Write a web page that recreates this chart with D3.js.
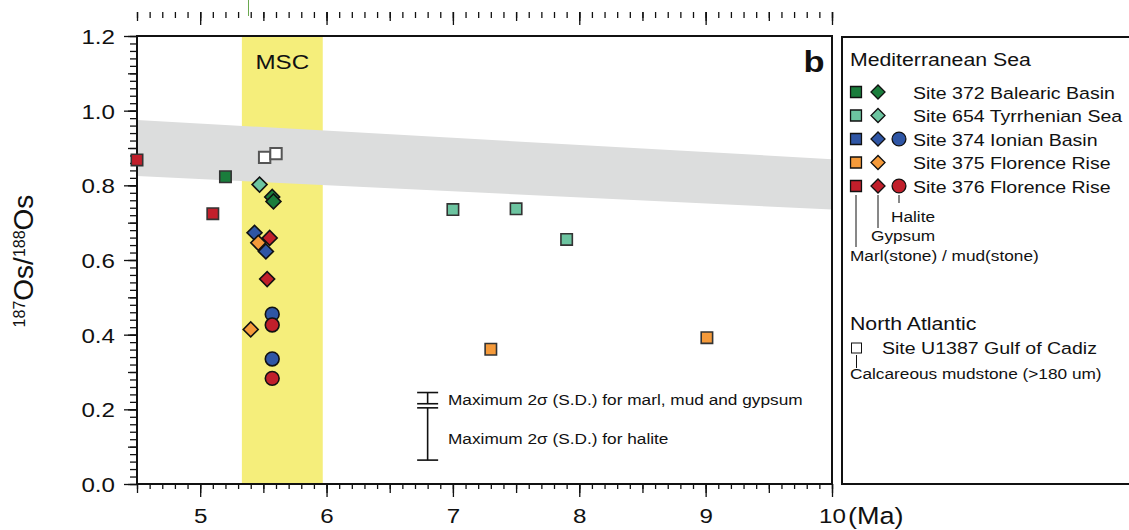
<!DOCTYPE html>
<html>
<head>
<meta charset="utf-8">
<script src="https://cdn.jsdelivr.net/npm/d3@7"></script>
<style>
  body { margin: 0; background: #fff; }
  svg { display: block; font-family: Arial, "Liberation Sans", sans-serif; }
</style>
</head>
<body>
<svg id="chart" width="1129" height="530"></svg>
<script>
// --- data ---
const siteNames = ["372", "654", "374", "375", "376", "U1387"];
const siteColors = ["#1a7d3c", "#6cc4a0", "#2f56a5", "#f59a3a", "#c11f2b", "#ffffff"];
const legendLabels = ["Site 372 Balearic Basin", "Site 654 Tyrrhenian Sea", "Site 374 Ionian Basin",
                      "Site 375 Florence Rise", "Site 376 Florence Rise"];
const legendShapes = [["marl", "gypsum"], ["marl", "gypsum"], ["marl", "gypsum", "halite"],
                      ["marl", "gypsum"], ["marl", "gypsum", "halite"]];

// points in drawing order (age Ma, 187Os/188Os, site, lithology)
const pointAge  = [4.5, 5.1, 5.2, 5.51, 5.6, 5.47, 5.57, 5.58, 5.43, 5.55, 5.46, 5.52, 5.53, 5.57, 5.57, 5.40, 5.57, 5.57, 7.0, 7.5, 7.9, 7.3, 9.01];
const pointOs   = [0.868, 0.724, 0.823, 0.875, 0.885, 0.802, 0.769, 0.757, 0.673, 0.659, 0.646, 0.623, 0.549, 0.455, 0.426, 0.414, 0.335, 0.283, 0.735, 0.737, 0.655, 0.361, 0.392];
const pointSite = ["376", "376", "372", "U1387", "U1387", "654", "372", "372", "374", "376", "375", "374", "376", "374", "376", "375", "374", "376", "654", "654", "654", "375", "375"];
const pointType = ["marl", "marl", "marl", "marl", "marl", "gypsum", "gypsum", "gypsum", "gypsum", "gypsum", "gypsum", "gypsum", "gypsum", "halite", "halite", "gypsum", "halite", "halite", "marl", "marl", "marl", "marl", "marl"];

// grey seawater band and MSC interval
const bandAge = [4.5, 10];
const bandTop = [0.975, 0.87];
const bandBottom = [0.825, 0.735];
const mscStart = 5.33, mscEnd = 5.97;

// error-bar legend (2 sigma)
const errAge = 6.8;
const errMarl = [0.245, 0.215];
const errHalite = [0.204, 0.064];

const xTicks = [5, 6, 7, 8, 9, 10];
const yTicks = [0, 0.2, 0.4, 0.6, 0.8, 1.0, 1.2];

// --- layout ---
const SX = 1.15;   // source figure is slightly stretched horizontally
const plotL = 137, plotR = 832, plotT = 36, plotB = 484;

const svg = d3.select("#chart");

const x = d3.scaleLinear().domain([4.5, 10]).range([plotL, plotR]);
const y = d3.scaleLinear().domain([0, 1.2]).range([plotB, plotT]);
const color = d3.scaleOrdinal().domain(siteNames).range(siteColors);

function label(g, px, py, s, size, anchor, weight) {
  return g.append("text")
    .attr("transform", "translate(" + px + "," + py + ") scale(" + SX + ",1)")
    .attr("text-anchor", anchor || "start")
    .style("font-size", size + "px")
    .style("font-weight", weight || "normal")
    .style("fill", "#111")
    .text(s);
}

// background bands
svg.append("rect")
  .attr("x", x(mscStart)).attr("y", plotT)
  .attr("width", x(mscEnd) - x(mscStart)).attr("height", plotB - plotT)
  .attr("fill", "#f5ee7b");

const area = d3.area()
  .x(function(d, i) { return x(d); })
  .y0(function(d, i) { return y(bandBottom[i]); })
  .y1(function(d, i) { return y(bandTop[i]); });
svg.append("path").datum(bandAge).attr("d", area).attr("fill", "#dcdddd");

label(svg, x((mscStart + mscEnd) / 2), 69, "MSC", 21, "middle");
label(svg, 814, 72, "b", 30, "middle", "bold");

// axes
function ticksAt(step, a, b) {
  return d3.range(Math.round(a / step), Math.round(b / step) + 1).map(function(k) { return +(k * step).toFixed(3); });
}
function styleAxis(g) {
  g.selectAll("line").attr("stroke", "#111").attr("stroke-width", 1.3);
  g.select(".domain").remove();
}

// bottom
svg.append("g").attr("transform", "translate(0," + plotB + ")")
  .call(d3.axisBottom(x).tickValues(ticksAt(0.1, 4.5, 10)).tickSize(5).tickFormat(""))
  .call(styleAxis);
svg.append("g").attr("transform", "translate(0," + plotB + ")")
  .call(d3.axisBottom(x).tickValues(ticksAt(0.5, 4.5, 10)).tickSize(9).tickFormat(""))
  .call(styleAxis);
const xAxisG = svg.append("g").attr("transform", "translate(0," + plotB + ")")
  .call(d3.axisBottom(x).tickValues(xTicks).tickSize(13).tickFormat(d3.format("d")))
  .call(styleAxis);
xAxisG.selectAll("text")
  .attr("y", 0).attr("dy", 0)
  .attr("transform", "translate(0,39) scale(" + SX + ",1)")
  .style("font-size", "21px").style("fill", "#111");

// top tick row (no labels)
const topRow = 12;
[[0.1, 6], [0.5, 9], [1, 13]].forEach(function(t) {
  svg.append("g").attr("transform", "translate(0," + topRow + ")")
    .call(d3.axisBottom(x).tickValues(ticksAt(t[0], 4.5, 10)).tickSize(t[1]).tickFormat(""))
    .call(styleAxis);
});
svg.append("line").attr("x1", 248.5).attr("x2", 248.5).attr("y1", 0).attr("y2", 16)
  .attr("stroke", "#6aa84f").attr("stroke-width", 1);

// left
svg.append("g").attr("transform", "translate(" + plotL + ",0)")
  .call(d3.axisLeft(y).tickValues(ticksAt(0.02, 0, 1.2)).tickSize(7).tickFormat(""))
  .call(styleAxis);
svg.append("g").attr("transform", "translate(" + plotL + ",0)")
  .call(d3.axisLeft(y).tickValues(ticksAt(0.1, 0, 1.2)).tickSize(9).tickFormat(""))
  .call(styleAxis);
const yAxisG = svg.append("g").attr("transform", "translate(" + plotL + ",0)")
  .call(d3.axisLeft(y).tickValues(yTicks).tickSize(13).tickFormat(d3.format(".1f")))
  .call(styleAxis);
yAxisG.selectAll("text")
  .attr("x", 0).attr("dy", "0.36em")
  .attr("transform", "translate(-22,0) scale(" + SX + ",1)")
  .style("font-size", "21px").style("fill", "#111");

// frame
svg.append("rect")
  .attr("x", plotL).attr("y", plotT).attr("width", plotR - plotL).attr("height", plotB - plotT)
  .attr("fill", "none").attr("stroke", "#111").attr("stroke-width", 2);

// axis titles
label(svg, 848, 524, "(Ma)", 23.5, "start");
const yt = svg.append("text")
  .attr("transform", "translate(33,261) rotate(-90)")
  .attr("text-anchor", "middle")
  .style("fill", "#111");
yt.append("tspan").text("187").style("font-size", "16px").attr("dy", -8);
yt.append("tspan").text("Os/").style("font-size", "28px").attr("dy", 8);
yt.append("tspan").text("188").style("font-size", "16px").attr("dy", -8);
yt.append("tspan").text("Os").style("font-size", "28px").attr("dy", 8);

// markers: square (marl), square turned 45deg (gypsum), circle (halite)
const squareSym = d3.symbol().type(d3.symbolSquare);
const circleSym = d3.symbol().type(d3.symbolCircle);
function markerPath(type, big) {
  if (type === "marl") return squareSym.size(big ? 130 : 120)();
  if (type === "gypsum") return squareSym.size(big ? 112 : 98)();
  return circleSym.size(150)();
}
function markerRot(type) { return type === "gypsum" ? " rotate(45)" : ""; }

svg.append("g").selectAll("path")
  .data(d3.range(pointAge.length))
  .join("path")
  .attr("transform", function(i) { return "translate(" + x(pointAge[i]) + "," + y(pointOs[i]) + ")" + markerRot(pointType[i]); })
  .attr("d", function(i) { return markerPath(pointType[i], true); })
  .attr("fill", function(i) { return color(pointSite[i]); })
  .attr("stroke", function(i) { return pointSite[i] === "U1387" ? "#555" : (pointType[i] === "marl" ? "#333" : "#111"); })
  .attr("stroke-width", function(i) { return pointSite[i] === "U1387" ? 2 : 1.6; });

// 2 sigma bars
function errBar(v) {
  const g = svg.append("g").attr("stroke", "#111").attr("stroke-width", 1.6);
  g.append("line").attr("x1", x(errAge)).attr("x2", x(errAge)).attr("y1", y(v[0])).attr("y2", y(v[1]));
  [0, 1].forEach(function(k) {
    g.append("line").attr("x1", x(errAge) - 10.5).attr("x2", x(errAge) + 10.5)
      .attr("y1", y(v[k])).attr("y2", y(v[k]));
  });
}
errBar(errMarl);
errBar(errHalite);
label(svg, 448, 405, "Maximum 2\u03c3 (S.D.) for marl, mud and gypsum", 15, "start");
label(svg, 448, 444, "Maximum 2\u03c3 (S.D.) for halite", 15, "start");

// legend box
const lg = svg.append("g");
lg.append("rect").attr("x", 842).attr("y", 37).attr("width", 320).attr("height", 447)
  .attr("fill", "none").attr("stroke", "#111").attr("stroke-width", 2);

label(lg, 850, 66, "Mediterranean Sea", 18.5, "start");
const shapeX = { marl: 856, gypsum: 878, halite: 899 };
const rowY0 = 92, rowStep = 23.5;
legendLabels.forEach(function(txt, r) {
  const cy = rowY0 + r * rowStep;
  legendShapes[r].forEach(function(s) {
    lg.append("path")
      .attr("transform", "translate(" + shapeX[s] + "," + cy + ")" + markerRot(s))
      .attr("d", markerPath(s, false))
      .attr("fill", siteColors[r])
      .attr("stroke", "#111").attr("stroke-width", 1.3);
  });
  label(lg, 913, cy + 6.5, txt, 17, "start");
});

const leaderTop = rowY0 + 4 * rowStep + 9;
lg.append("line").attr("x1", 856).attr("x2", 856).attr("y1", leaderTop).attr("y2", 247).attr("stroke", "#111");
lg.append("line").attr("x1", 878).attr("x2", 878).attr("y1", leaderTop).attr("y2", 228).attr("stroke", "#111");
lg.append("line").attr("x1", 899).attr("x2", 899).attr("y1", leaderTop).attr("y2", 203).attr("stroke", "#111");
label(lg, 891, 222, "Halite", 15, "start");
label(lg, 871, 241, "Gypsum", 15, "start");
label(lg, 850, 261, "Marl(stone) / mud(stone)", 15, "start");

label(lg, 850, 330, "North Atlantic", 18.5, "start");
lg.append("rect").attr("x", 851.5).attr("y", 343).attr("width", 10).attr("height", 10)
  .attr("fill", "#fff").attr("stroke", "#111").attr("stroke-width", 1);
label(lg, 882, 354, "Site U1387 Gulf of Cadiz", 17, "start");
lg.append("line").attr("x1", 856.5).attr("x2", 856.5).attr("y1", 355).attr("y2", 368).attr("stroke", "#111");
label(lg, 850, 379, "Calcareous mudstone (>180 um)", 15, "start");
</script>
</body>
</html>
